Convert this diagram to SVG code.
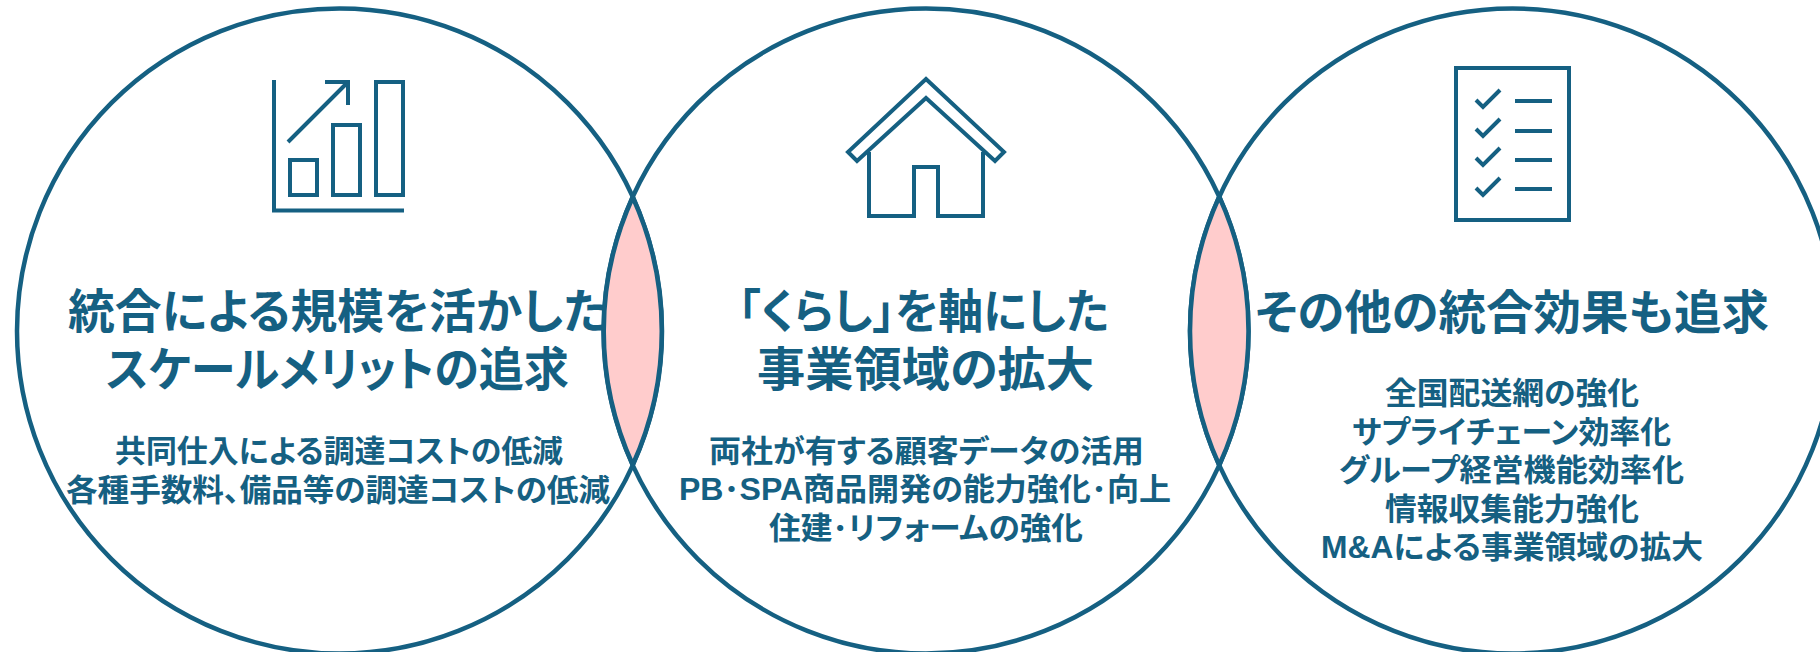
<svg xmlns="http://www.w3.org/2000/svg" width="1820" height="652" viewBox="0 0 1820 652">
<style>
text{font-family:"Liberation Sans","Noto Sans CJK JP",sans-serif;font-weight:700;fill:#156082;text-anchor:start;font-feature-settings:"palt";font-kerning:normal}
.t{font-size:47px}
.s{font-size:31px}
.c{fill:none;stroke:#156082;stroke-width:4.500}
.i{fill:none;stroke:#156082;stroke-width:4}
.l{fill:#ffcccc;stroke:#156082;stroke-width:4.500}
</style>
<rect width="1820" height="652" fill="#fff"/>
<g id="node-left">
<circle class="c" cx="339.500" cy="331" r="322.500"/>
<path class="i" d="M274 80V210.500H404M288 142L348 82M325 82H348V105M290 160H317V195H290ZM333 125H360V195H333ZM376 82H403V195H376Z"/>
<text class="t" x="68" y="328" textLength="540" lengthAdjust="spacingAndGlyphs">統合による規模を活かした</text>
<text class="t" x="106" y="386" textLength="463" lengthAdjust="spacingAndGlyphs">スケールメリットの追求</text>
<text class="s" x="115" y="462" textLength="448" lengthAdjust="spacingAndGlyphs">共同仕入による調達コストの低減</text>
<text class="s" x="66" y="501" textLength="544" lengthAdjust="spacingAndGlyphs">各種手数料、備品等の調達コストの低減</text>
</g>
<g id="node-center">
<circle class="c" cx="926" cy="331" r="322.500"/>
<path class="i" d="M926 79L1004 152L995 161L926 98L857 161L848 152ZM869 152V216H914V167H938V216H983V152"/>
<text class="t" x="738" y="328" textLength="371" lengthAdjust="spacingAndGlyphs">「くらし」を軸にした</text>
<text class="t" x="757" y="386" textLength="337" lengthAdjust="spacingAndGlyphs">事業領域の拡大</text>
<text class="s" x="709" y="462" textLength="435" lengthAdjust="spacingAndGlyphs">両社が有する顧客データの活用</text>
<text class="s" x="679" y="500" textLength="492" lengthAdjust="spacingAndGlyphs">PB･SPA商品開発の能力強化･向上</text>
<text class="s" x="769" y="539" textLength="314" lengthAdjust="spacingAndGlyphs">住建･リフォームの強化</text>
</g>
<g id="node-right">
<circle class="c" cx="1512.500" cy="331" r="322.500"/>
<path class="i" d="M1456 68H1569V220H1456ZM1476 100L1483 107L1500 90M1476 129L1483 136L1500 119M1476 158L1483 165L1500 148M1476 188L1483 195L1500 178M1515 101H1552M1515 131H1552M1515 160H1552M1515 189H1552"/>
<text class="t" x="1255" y="329" textLength="514" lengthAdjust="spacingAndGlyphs">その他の統合効果も追求</text>
<text class="s" x="1385" y="404" textLength="254" lengthAdjust="spacingAndGlyphs">全国配送網の強化</text>
<text class="s" x="1352" y="443" textLength="319" lengthAdjust="spacingAndGlyphs">サプライチェーン効率化</text>
<text class="s" x="1339" y="481" textLength="345" lengthAdjust="spacingAndGlyphs">グループ経営機能効率化</text>
<text class="s" x="1385" y="520" textLength="254" lengthAdjust="spacingAndGlyphs">情報収集能力強化</text>
<text class="s" x="1321" y="558" textLength="382" lengthAdjust="spacingAndGlyphs">M&amp;Aによる事業領域の拡大</text>
</g>
<g id="connectors">
<path class="l" d="M632.750 197.300A322.500 322.500 0 0 1 632.750 464.700A322.500 322.500 0 0 1 632.750 197.300Z"/>
<path class="l" d="M1219.250 196.800A322.500 322.500 0 0 1 1219.250 465.200A322.500 322.500 0 0 1 1219.250 196.800Z"/>
</g>
</svg>
